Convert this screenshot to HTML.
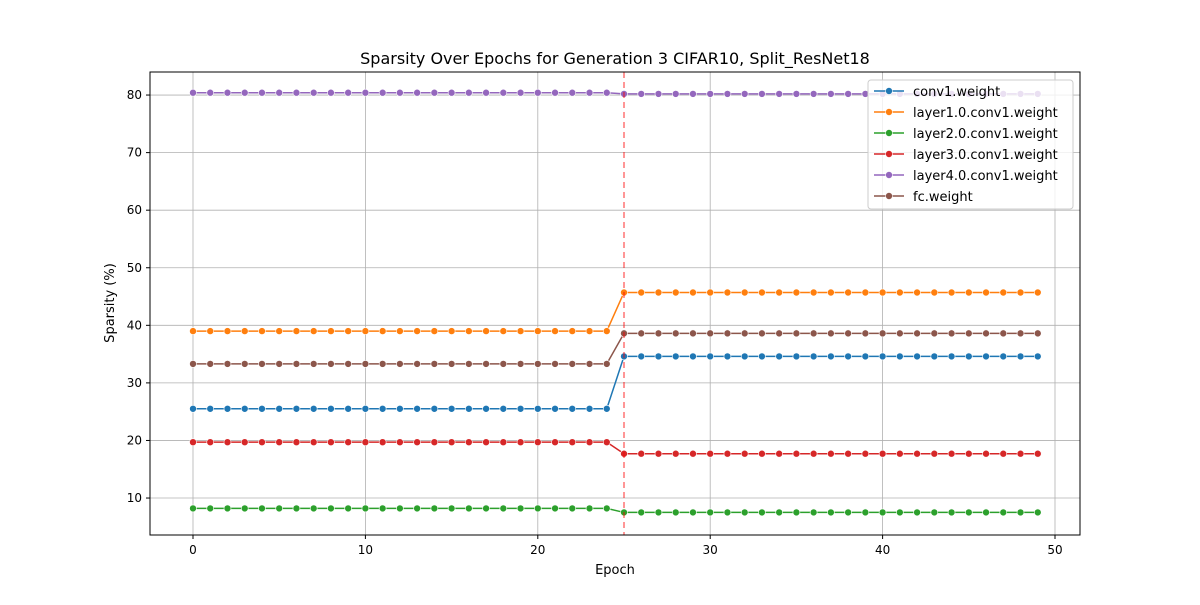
<!DOCTYPE html>
<html><head><meta charset="utf-8"><style>
body{margin:0;background:#fff}
svg text{font-family:"DejaVu Sans","Liberation Sans",sans-serif;fill:#000}
</style></head><body>
<svg id="c" width="1200" height="600" xmlns="http://www.w3.org/2000/svg">
<rect width="1200" height="600" fill="#fff"/>
<text x="615" y="64" font-size="16" text-anchor="middle">Sparsity Over Epochs for Generation 3 CIFAR10, Split_ResNet18</text>
<g id="grid"></g>
<g id="series"></g>
<rect x="150" y="72" width="930" height="463" fill="none" stroke="#000" stroke-width="1"/>
<g id="ticks"></g>
<text x="615" y="574" font-size="13" text-anchor="middle">Epoch</text>
<text transform="translate(114,303) rotate(-90)" font-size="13" text-anchor="middle">Sparsity (%)</text>
<g id="legend"></g>
</svg>
<script>
const names=["conv1.weight","layer1.0.conv1.weight","layer2.0.conv1.weight","layer3.0.conv1.weight","layer4.0.conv1.weight","fc.weight"];
const colors=["#1f77b4","#ff7f0e","#2ca02c","#d62728","#9467bd","#8c564b"];
const before=[25.5,39.0,8.2,19.7,80.4,33.3];
const after=[34.6,45.7,7.5,17.7,80.2,38.6];
const switchEpoch=25;
const nEpochs=50;
const xTicks=[0,10,20,30,40,50];
const yTicks=[10,20,30,40,50,60,70,80];
const NS="http://www.w3.org/2000/svg";
const X=v=>193+v*17.24;
const Y=v=>555.6-v*5.757;
function mk(t,a,p){const e=document.createElementNS(NS,t);for(const k in a)e.setAttribute(k,a[k]);p.appendChild(e);return e;}
const grid=document.getElementById('grid'),ticks=document.getElementById('ticks');
xTicks.forEach(t=>{
 const l=mk('line',{x1:X(t),x2:X(t),y1:72,y2:535,stroke:'#b0b0b0','stroke-width':0.8},grid);
 
 
 mk('line',{x1:X(t),x2:X(t),y1:535,y2:539,stroke:'#000'},ticks);
 const tx=mk('text',{x:X(t),y:554,'font-size':12,'text-anchor':'middle'},ticks);tx.textContent=t;
 
 
});
yTicks.forEach(t=>{
 const l=mk('line',{x1:150,x2:1080,y1:Y(t),y2:Y(t),stroke:'#b0b0b0','stroke-width':0.8},grid);
 
 
 mk('line',{x1:146,x2:150,y1:Y(t),y2:Y(t),stroke:'#000'},ticks);
 const tx=mk('text',{x:142,y:Y(t)+4,'font-size':12,'text-anchor':'end'},ticks);tx.textContent=t;
 
 
});
const sg=document.getElementById('series');
names.forEach((n,i)=>{
 const g=mk('g',{},sg);
 
 
 let pts=[];
 for(let e=0;e<nEpochs;e++){const v=e<switchEpoch?before[i]:after[i];pts.push([X(e),Y(v)]);}
 mk('polyline',{points:pts.map(p=>p.join(',')).join(' '),fill:'none',stroke:colors[i],'stroke-width':1.5},g);
 pts.forEach(p=>{const c=mk('circle',{cx:p[0],cy:p[1],r:3.5,fill:colors[i],stroke:'#fff','stroke-width':0.6},g);
  
  });
});
const vl=mk('line',{x1:X(switchEpoch),x2:X(switchEpoch),y1:72,y2:535,stroke:'#ff0000','stroke-opacity':0.55,'stroke-width':1.5,'stroke-dasharray':'6,4'},sg);


const lg=document.getElementById('legend');


mk('rect',{x:868,y:80,width:205,height:129,rx:3,fill:'#fff','fill-opacity':0.8,stroke:'#ccc'},lg);
names.forEach((n,i)=>{
 const y=91+i*21;
 const e=mk('g',{},lg);
 
 
 mk('line',{x1:874,x2:904,y1:y,y2:y,stroke:colors[i],'stroke-width':1.5},e);
 mk('circle',{cx:889,cy:y,r:3.5,fill:colors[i],stroke:'#fff','stroke-width':0.6},e);
 const t=mk('text',{x:913,y:y+5,'font-size':13},e);t.textContent=n;
});
</script>
</body></html>
